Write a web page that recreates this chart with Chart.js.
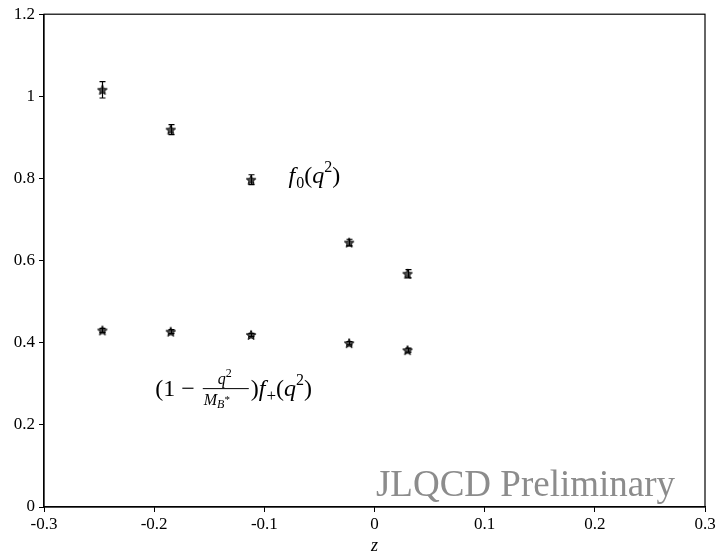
<!DOCTYPE html>
<html>
<head>
<meta charset="utf-8">
<script src="https://cdn.jsdelivr.net/npm/chart.js@4"></script>
<style>
  html, body { margin: 0; padding: 0; background: #ffffff; }
  #wrap { width: 719px; height: 557px; }
</style>
</head>
<body>
<div id="wrap"><canvas id="chart" width="719" height="557"></canvas></div>
<script>
const zValues = [-0.247, -0.185, -0.112, -0.023, 0.030];
const f0Values = [1.016, 0.919, 0.797, 0.644, 0.568];
const f0Errors = [0.020, 0.012, 0.012, 0.008, 0.010];
const fpValues = [0.430, 0.427, 0.419, 0.399, 0.382];
const fpErrors = [0.005, 0.005, 0.004, 0.004, 0.005];
const xTicks = [-0.3, -0.2, -0.1, 0, 0.1, 0.2, 0.3];
const yTicks = [0, 0.2, 0.4, 0.6, 0.8, 1, 1.2];

const SERIF = '"Liberation Serif", "DejaVu Serif", serif';

function starMarker() {
    const c = document.createElement('canvas');
    c.width = 12;
    c.height = 12;
    const ctx = c.getContext('2d');
    ctx.beginPath();
    for (let i = 0; i < 10; i++) {
        const r = i % 2 === 0 ? 5 : 2.2;
        const a = -Math.PI / 2 + i * Math.PI / 5;
        const px = 6 + r * Math.cos(a);
        const py = 6.5 + r * Math.sin(a);
        if (i === 0) ctx.moveTo(px, py); else ctx.lineTo(px, py);
    }
    ctx.closePath();
    ctx.fillStyle = '#555';
    ctx.fill();
    ctx.lineWidth = 1;
    ctx.strokeStyle = '#000';
    ctx.stroke();
    return c;
}

const marker = starMarker();

function points(ys) {
    return zValues.map((z, i) => ({ x: z, y: ys[i] }));
}

// draw a run of text pieces: [text, size, italic, dy]
function drawRun(ctx, pieces, x, y) {
    pieces.forEach(([t, size, italic, dy, gap]) => {
        ctx.font = (italic ? 'italic ' : '') + size + 'px ' + SERIF;
        ctx.fillText(t, x, y + (dy || 0));
        x += ctx.measureText(t).width + (gap || 0);
    });
    return x;
}

// error bars, frame and labels drawn on top
const extras = {
    id: 'extras',
    afterDatasetsDraw(chart) {
        const { ctx, chartArea, scales } = chart;
        const xs = scales.x;
        const ys = scales.y;

        ctx.save();
        ctx.strokeStyle = '#000';
        ctx.lineWidth = 1.2;
        const bars = [[f0Values, f0Errors], [fpValues, fpErrors]];
        bars.forEach(([vals, errs]) => {
            vals.forEach((v, i) => {
                const px = Math.round(xs.getPixelForValue(zValues[i])) + 0.5;
                const top = ys.getPixelForValue(v + errs[i]);
                const bot = ys.getPixelForValue(v - errs[i]);
                ctx.beginPath();
                ctx.moveTo(px, top);
                ctx.lineTo(px, bot);
                ctx.moveTo(px - 3, top);
                ctx.lineTo(px + 3, top);
                ctx.moveTo(px - 3, bot);
                ctx.lineTo(px + 3, bot);
                ctx.stroke();
            });
        });

        // frame
        ctx.lineWidth = 1.2;
        ctx.strokeRect(chartArea.left, chartArea.top,
            chartArea.right - chartArea.left, chartArea.bottom - chartArea.top);

        ctx.fillStyle = '#000';
        ctx.textBaseline = 'alphabetic';

        // f0 label
        let x = xs.getPixelForValue(-0.078);
        let y = ys.getPixelForValue(0.79);
        drawRun(ctx, [
            ['f', 24, true, 0, 1],
            ['0', 16, false, 5],
            ['(', 24, false, 0],
            ['q', 24, true, 0],
            ['2', 16, false, -11],
            [')', 24, false, 0],
        ], x, y);

        // f+ label
        x = xs.getPixelForValue(-0.199);
        y = ys.getPixelForValue(0.27);
        x = drawRun(ctx, [['(1 \u2212 ', 24, false, 0]], x, y) + 2;
        const fracLeft = x;
        const fracW = 46;
        ctx.beginPath();
        ctx.lineWidth = 1;
        ctx.moveTo(fracLeft, y - 7.5);
        ctx.lineTo(fracLeft + fracW, y - 7.5);
        ctx.stroke();
        drawRun(ctx, [['q', 16, true, 0], ['2', 12, false, -7]], fracLeft + 15, y - 12);
        drawRun(ctx, [['M', 16, true, 0], ['B', 12, true, 3], ['*', 11, false, -2]], fracLeft + 1, y + 9);
        x = fracLeft + fracW + 2;
        drawRun(ctx, [
            [')', 24, false, 0],
            ['f', 24, true, 0, 1],
            ['+', 17, false, 5],
            ['(', 24, false, 0],
            ['q', 24, true, 0],
            ['2', 16, false, -11],
            [')', 24, false, 0],
        ], x, y);

        // watermark
        ctx.fillStyle = '#8c8c8c';
        ctx.font = '37px ' + SERIF;
        ctx.textAlign = 'right';
        ctx.fillText('JLQCD Preliminary', chartArea.right - 30, chartArea.bottom - 11);
        ctx.restore();
    },
};

new Chart(document.getElementById('chart'), {
    type: 'scatter',
    data: {
        datasets: [
            {
                label: 'f0',
                data: points(f0Values),
                pointStyle: marker,
                pointRadius: 6,
            },
            {
                label: 'f+',
                data: points(fpValues),
                pointStyle: marker,
                pointRadius: 6,
            },
        ],
    },
    options: {
        responsive: false,
        animation: false,
        layout: {
            padding: { top: 14, right: 14, left: 0, bottom: 0 },
        },
        plugins: {
            legend: { display: false },
            tooltip: { enabled: false },
        },
        scales: {
            x: {
                type: 'linear',
                min: -0.3,
                max: 0.3,
                afterBuildTicks: (axis) => {
                    axis.ticks = xTicks.map((v) => ({ value: v }));
                },
                afterFit: (axis) => {
                    axis.height = 50;
                },
                ticks: {
                    color: '#000',
                    padding: 2,
                    maxRotation: 0,
                    font: { family: SERIF, size: 17 },
                    callback: (v) => (v === 0 ? '0' : v.toFixed(1)),
                },
                grid: {
                    drawOnChartArea: false,
                    drawTicks: true,
                    tickLength: 5,
                    color: '#000',
                },
                border: { display: true, color: '#000', width: 1.2 },
                title: {
                    display: true,
                    text: 'z',
                    color: '#000',
                    padding: { top: 2, bottom: 0 },
                    font: { family: SERIF, size: 18, style: 'italic' },
                },
            },
            y: {
                type: 'linear',
                min: 0,
                max: 1.2,
                afterBuildTicks: (axis) => {
                    axis.ticks = yTicks.map((v) => ({ value: v }));
                },
                afterFit: (axis) => {
                    axis.width = 44;
                },
                ticks: {
                    color: '#000',
                    padding: 4,
                    font: { family: SERIF, size: 17 },
                    callback: (v) => (v === 0 || v === 1 ? String(v) : v.toFixed(1)),
                },
                grid: {
                    drawOnChartArea: false,
                    drawTicks: true,
                    tickLength: 5,
                    color: '#000',
                },
                border: { display: true, color: '#000', width: 1.2 },
            },
        },
    },
    plugins: [extras],
});
</script>
</body>
</html>
